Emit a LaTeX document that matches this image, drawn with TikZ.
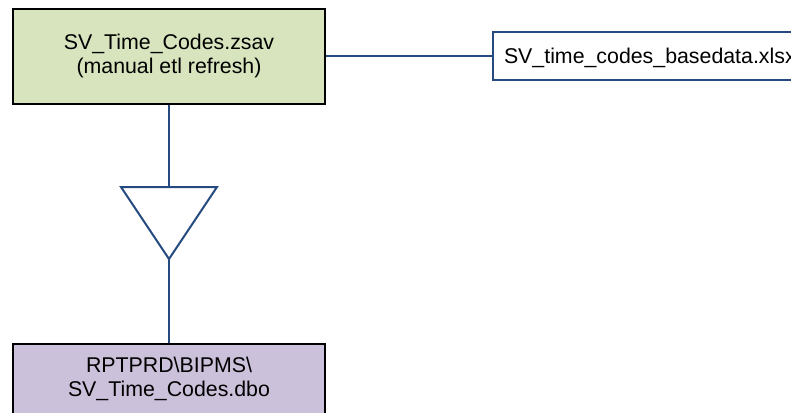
\documentclass[tikz,border=0pt]{standalone}
\usepackage{fontspec}
\setmainfont{Liberation Sans}
\definecolor{boxgreen}{RGB}{215,228,189}
\definecolor{boxpurple}{RGB}{204,193,218}
\definecolor{linkblue}{RGB}{36,74,128}
\begin{document}
\begin{tikzpicture}[x=0.75pt,y=-0.75pt,
  every node/.style={font=\fontsize{16pt}{18pt}\selectfont, align=center, inner sep=0pt},
  procbox/.style={draw=black, line width=1.5pt, minimum width=312*0.75pt},
  filebox/.style={draw=linkblue, fill=white, line width=1.5pt, minimum height=48*0.75pt, text depth=0pt},
  link/.style={draw=linkblue, line width=1.5pt}]
\useasboundingbox (0,0) rectangle (791,412);
\node[procbox, fill=boxgreen, minimum height=95*0.75pt] (zsav) at (169,56) {SV\_Time\_Codes.zsav\\(manual etl refresh)};
\node[filebox, anchor=west, inner xsep=11*0.75pt, text width=340*0.75pt, align=left] (xlsx) at (492,56) {SV\_time\_codes\_basedata.xlsx};
\node[procbox, fill=boxpurple, minimum height=70*0.75pt] (dbo) at (169,379) {RPTPRD\textbackslash BIPMS\textbackslash\\SV\_Time\_Codes.dbo};
\coordinate (tl) at (121,187);
\coordinate (tr) at (217,187);
\coordinate (tt) at (169,187);
\coordinate (tb) at (169,259);
\draw[link, fill=white, line join=miter] (tl) -- (tr) -- (tb) -- cycle;
\draw[link] (zsav.east) -- (xlsx.west);
\draw[link] (zsav.south) -- (tt);
\draw[link] (tb) -- (dbo.north);
\end{tikzpicture}
\end{document}
